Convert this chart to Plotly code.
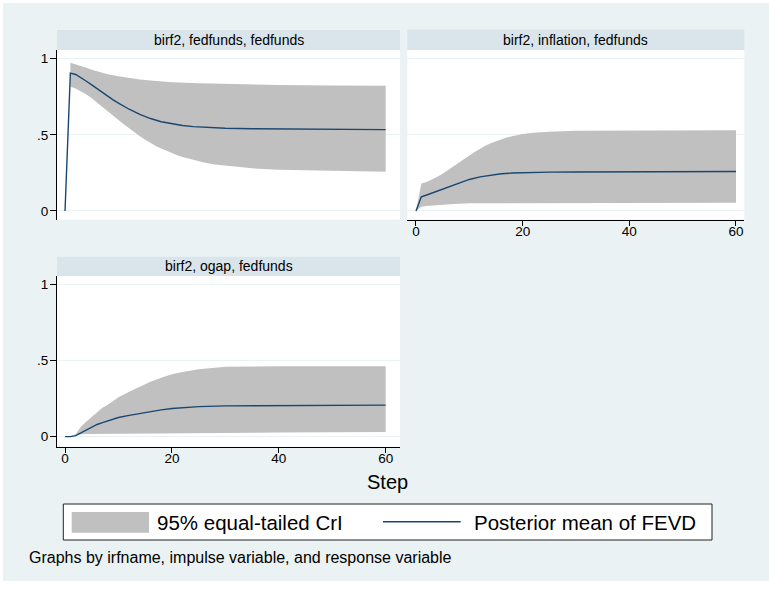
import plotly.graph_objects as go

W, H = 769, 590

# ---- data: FEVD of fedfunds (posterior mean and 95% equal-tailed CrI) ----
panel_titles = ["birf2, fedfunds, fedfunds", "birf2, inflation, fedfunds", "birf2, ogap, fedfunds"]

# impulse: fedfunds
ff_steps = [0, 1, 2, 3, 4, 5, 6, 7, 8, 9, 10, 12, 14, 16, 18, 20, 22, 24, 26, 28, 30, 35, 40, 50, 60]
ff_mean = [0, .905, .896, .876, .852, .828, .802, .778, .754, .730, .708, .668, .634, .607, .586,
           .571, .561, .554, .549, .545, .543, .540, .538, .536, .534]
ff_hi_steps = [1, 2, 3, 4, 5, 6, 7, 8, 10, 12, 14, 16, 18, 20, 25, 30, 35, 40, 50, 60]
ff_hi = [.974, .964, .952, .940, .928, .917, .907, .898, .884, .872, .863, .856, .850, .846,
         .838, .833, .830, .827, .824, .822]
ff_lo_steps = [1, 2, 3, 4, 5, 6, 7, 8, 9, 10, 11, 12, 13, 14, 15, 16, 17, 18, 19, 20, 21, 22, 24,
               26, 28, 30, 35, 40, 50, 60]
ff_lo = [.816, .805, .787, .765, .740, .713, .685, .657, .627, .598, .569, .541, .515, .490, .467,
         .446, .427, .410, .394, .379, .366, .354, .334, .318, .305, .295, .280, .271, .264, .258]

# impulse: inflation
inf_steps = [0, 1, 2, 3, 4, 5, 6, 7, 8, 9, 10, 12, 14, 16, 18, 20, 25, 30, 40, 60]
inf_mean = [0, .093, .105, .118, .132, .146, .160, .173, .186, .197, .207, .224, .236, .244, .249,
            .252, .255, .256, .257, .259]
inf_hi_steps = [0, 1, 2, 3, 4, 5, 6, 7, 8, 9, 10, 11, 12, 13, 14, 15, 16, 17, 18, 19, 20, 22, 25,
                30, 40, 60]
inf_hi = [0, .180, .190, .205, .225, .245, .270, .295, .320, .343, .365, .388, .410, .428, .445,
          .459, .471, .482, .491, .499, .505, .513, .520, .526, .528, .530]
inf_lo_steps = [0, 1, 2, 3, 5, 7, 10, 15, 20, 30, 60]
inf_lo = [0, .028, .033, .037, .042, .046, .050, .052, .053, .054, .054]

# impulse: ogap
og_steps = [0, 1, 2, 3, 4, 5, 6, 7, 8, 9, 10, 12, 14, 16, 18, 20, 22, 25, 30, 40, 60]
og_mean = [0, 0, .007, .026, .047, .066, .080, .092, .103, .115, .126, .140, .153, .165, .176,
           .185, .191, .197, .202, .205, .207]
og_hi = [0, 0, .015, .066, .100, .130, .163, .190, .210, .235, .258, .295, .330, .360, .386,
         .410, .425, .443, .459, .462, .463]
og_lo_steps = [0, 1, 2, 3, 4, 5, 7, 10, 20, 40, 60]
og_lo = [0, 0, .005, .015, .018, .020, .021, .022, .024, .027, .030]

y_ticks = [0, 0.5, 1]
y_tick_text = ["0", ".5", "1"]
x_ticks = [0, 20, 40, 60]

legend_labels = ["95% equal-tailed CrI", "Posterior mean of FEVD"]
x_title = "Step"
note = "Graphs by irfname, impulse variable, and response variable"

# ---- styling ----
FONT = "Liberation Sans, Arial, sans-serif"
BG = "#EAF2F3"
STRIP = "#D9E5EA"
GRID = "#EAF2F3"
BAND = "#C0C0C0"
LINE = "#1A476F"
AXIS = "#000000"


def px(x):
    return x / W


def py(y):
    return 1 - y / H


panels = [
    dict(x="x", y="y", mean_s=ff_steps, mean=ff_mean, hi_s=ff_hi_steps, hi=ff_hi, lo_s=ff_lo_steps, lo=ff_lo),
    dict(x="x2", y="y2", mean_s=inf_steps, mean=inf_mean, hi_s=inf_hi_steps, hi=inf_hi, lo_s=inf_lo_steps, lo=inf_lo),
    dict(x="x3", y="y3", mean_s=og_steps, mean=og_mean, hi_s=og_steps, hi=og_hi, lo_s=og_lo_steps, lo=og_lo),
]

fig = go.Figure()
for p in panels:
    band_x = list(p["hi_s"]) + list(reversed(p["lo_s"]))
    band_y = list(p["hi"]) + list(reversed(p["lo"]))
    fig.add_trace(go.Scatter(x=band_x, y=band_y, xaxis=p["x"], yaxis=p["y"], mode="lines",
                             fill="toself", fillcolor=BAND, line=dict(width=0, color=BAND),
                             hoverinfo="skip", showlegend=False))
    fig.add_trace(go.Scatter(x=p["mean_s"], y=p["mean"], xaxis=p["x"], yaxis=p["y"], mode="lines",
                             line=dict(color=LINE, width=1.4), showlegend=False))

tick_font = dict(family=FONT, size=13.5, color="#000")

common_y = dict(tickvals=y_ticks, ticktext=y_tick_text, gridcolor=GRID, gridwidth=1.2,
                zeroline=False, tickfont=tick_font, fixedrange=True)
common_x = dict(tickvals=x_ticks, showgrid=False, zeroline=False, tickfont=tick_font, fixedrange=True)

# panel geometry (pixels)
L1, R1 = 57, 400
L2, R2 = 407.3, 744.3
TOP_T, TOP_B = 50, 219.5
BOT_T, BOT_B = 276, 446.7

x_tick_style = dict(ticks="outside", ticklen=5, tickcolor=AXIS, showline=True, linecolor=AXIS,
                    linewidth=1, ticklabelstandoff=-6)
y_tick_style = dict(ticks="outside", ticklen=6, tickcolor=AXIS, showline=True, linecolor=AXIS,
                    linewidth=1, ticklabelstandoff=-1)

fig.update_layout(
    width=W, height=H,
    margin=dict(l=0, r=0, t=0, b=0),
    paper_bgcolor=BG, plot_bgcolor="white",
    showlegend=False,
    xaxis=dict(domain=[px(L1), px(R1)], range=[-1.5, 62.68], anchor="y",
               showticklabels=False, ticks="", showline=False, **common_x),
    yaxis=dict(domain=[py(TOP_B), py(TOP_T)], range=[-0.056, 1.057], anchor="x",
               **y_tick_style, **common_y),
    xaxis2=dict(domain=[px(L2), px(R2)], range=[-1.63, 61.56], anchor="y2",
                **x_tick_style, **common_x),
    yaxis2=dict(domain=[py(TOP_B), py(TOP_T)], range=[-0.056, 1.057], anchor="x2",
                showticklabels=False, ticks="", showline=False, **common_y),
    xaxis3=dict(domain=[px(L1), px(R1)], range=[-1.5, 62.68], anchor="y3",
                **x_tick_style, **common_x),
    yaxis3=dict(domain=[py(BOT_B), py(BOT_T)], range=[-0.066, 1.055], anchor="x3",
                **y_tick_style, **common_y),
)

shapes = []
annotations = []

# white frame around the graph region
for x0, y0, x1, y1 in [(0, 0, W, 3), (0, 0, 3, H), (0, 581, W, H)]:
    shapes.append(dict(type="rect", xref="paper", yref="paper", x0=px(x0), x1=px(x1),
                       y0=py(y1), y1=py(y0), fillcolor="white", line=dict(width=0), layer="below"))

# panel title strips
strips = [(L1, R1, 30, TOP_T), (L2, R2, 29.5, TOP_T), (L1, R1, 256.7, BOT_T)]
for (x0, x1, y0, y1), title in zip(strips, panel_titles):
    shapes.append(dict(type="rect", xref="paper", yref="paper", x0=px(x0), x1=px(x1),
                       y0=py(y1), y1=py(y0), fillcolor=STRIP, line=dict(width=0)))
    annotations.append(dict(xref="paper", yref="paper", x=px((x0 + x1) / 2), y=py((y0 + y1) / 2),
                            text=title, showarrow=False, xanchor="center", yanchor="middle",
                            font=dict(family=FONT, size=14, color="#000")))

# x-axis title
annotations.append(dict(xref="paper", yref="paper", x=px(387.5), y=py(482), text=x_title,
                        showarrow=False, xanchor="center", yanchor="middle",
                        font=dict(family=FONT, size=20, color="#000")))

# legend box
shapes.append(dict(type="rect", xref="paper", yref="paper", x0=px(63.3), x1=px(712),
                   y0=py(540), y1=py(504), fillcolor="white", line=dict(color="#222", width=1)))
shapes.append(dict(type="rect", xref="paper", yref="paper", x0=px(71.7), x1=px(149),
                   y0=py(532.7), y1=py(512), fillcolor=BAND, line=dict(width=0)))
shapes.append(dict(type="line", xref="paper", yref="paper", x0=px(383), x1=px(460.7),
                   y0=py(521.7), y1=py(521.7), line=dict(color=LINE, width=1.5)))
annotations.append(dict(xref="paper", yref="paper", x=px(155), y=py(522), text=legend_labels[0],
                        showarrow=False, xanchor="left", yanchor="middle",
                        font=dict(family=FONT, size=20.5, color="#000")))
annotations.append(dict(xref="paper", yref="paper", x=px(472), y=py(522), text=legend_labels[1],
                        showarrow=False, xanchor="left", yanchor="middle",
                        font=dict(family=FONT, size=20.5, color="#000")))

# note
annotations.append(dict(xref="paper", yref="paper", x=px(27), y=py(557), text=note,
                        showarrow=False, xanchor="left", yanchor="middle",
                        font=dict(family=FONT, size=16, color="#000")))

fig.update_layout(shapes=shapes, annotations=annotations)
fig.write_html("out.html")
